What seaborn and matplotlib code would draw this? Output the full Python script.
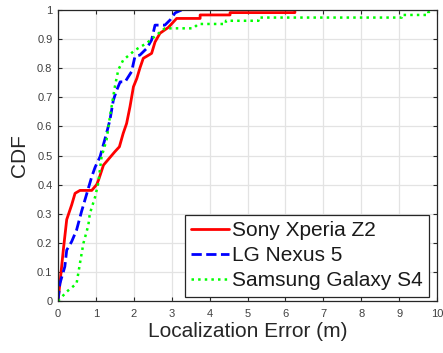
import numpy as np
import pandas as pd
import matplotlib
matplotlib.use("Agg")
import matplotlib.pyplot as plt
import seaborn as sns

# Data: CDF knots per device
sony_x = [0, 0.05, 0.14, 0.23, 0.36, 0.45, 0.58, 0.89, 1.02, 1.07, 1.2, 1.5, 1.62, 1.72, 1.81,
          1.9, 1.99, 2.08, 2.16, 2.25, 2.47, 2.56, 2.69, 2.91, 3.13, 3.75, 3.75, 4.54, 4.54,
          6.25, 6.25]
sony_p = [0, 0.06, 0.175, 0.28, 0.33, 0.37, 0.38, 0.38, 0.40, 0.416, 0.467, 0.513, 0.53, 0.576,
          0.61, 0.668, 0.736, 0.765, 0.80, 0.834, 0.851, 0.89, 0.92, 0.94, 0.971, 0.971, 0.983,
          0.983, 0.991, 0.991, 1.0]

lg_x = [0, 0.05, 0.18, 0.23, 0.36, 0.49, 0.62, 0.71, 0.80, 0.89, 0.98, 1.11, 1.28, 1.37, 1.46,
        1.55, 1.64, 1.77, 1.94, 2.03, 2.16, 2.34, 2.47, 2.56, 2.82, 2.96, 3.09, 3.26]
lg_p = [0, 0.06, 0.118, 0.175, 0.204, 0.244, 0.307, 0.347, 0.387, 0.427, 0.46, 0.496, 0.576,
        0.622, 0.69, 0.725, 0.753, 0.753, 0.788, 0.84, 0.845, 0.868, 0.897, 0.948, 0.948, 0.966,
        0.99, 1.0]

s4_x = [0, 0.23, 0.49, 0.58, 0.67, 0.80, 0.84, 0.98, 1.06, 1.15, 1.28, 1.37, 1.5, 1.59, 1.72,
        2.03, 2.34, 2.6, 2.82, 3.57, 3.7, 4.43, 4.43, 5.29, 5.29, 9.07, 9.07, 9.77, 9.77, 9.85]
s4_p = [0, 0.032, 0.06, 0.13, 0.198, 0.26, 0.30, 0.358, 0.404, 0.496, 0.553, 0.633, 0.736, 0.794,
        0.828, 0.862, 0.886, 0.914, 0.937, 0.937, 0.952, 0.952, 0.963, 0.963, 0.974, 0.974,
        0.983, 0.983, 0.992, 1.0]

labels = ["Sony Xperia Z2", "LG Nexus 5", "Samsung Galaxy S4"]
colors = ["#ff0000", "#0000ff", "#00ff00"]
styles = ["-", "--", ":"]
widths = [2.0, 2.0, 1.8]

x_ticks = list(range(0, 11))
y_ticks = [0, 0.1, 0.2, 0.3, 0.4, 0.5, 0.6, 0.7, 0.8, 0.9, 1]
y_tick_labels = ["0", "0.1", "0.2", "0.3", "0.4", "0.5", "0.6", "0.7", "0.8", "0.9", "1"]

sns.set_theme(style="whitegrid")
plt.rcParams["font.family"] = ["Liberation Sans", "DejaVu Sans"]

fig = plt.figure(figsize=(4.43, 3.53), dpi=100)
ax = fig.add_axes([58 / 443, 1 - 301 / 353, (437 - 58) / 443, (301 - 10) / 353])
ax.set_facecolor("white")

series = [(sony_x, sony_p), (lg_x, lg_p), (s4_x, s4_p)]
for (xs, ps), lab, c, ls, lw in zip(series, labels, colors, styles, widths):
    df = pd.DataFrame({"x": xs, "p": ps})
    sns.lineplot(data=df, x="x", y="p", sort=False, estimator=None, ax=ax,
                 color=c, linestyle=ls, linewidth=lw, label=lab)

ax.set_xlim(0, 10)
ax.set_ylim(0, 1)
ax.set_xticks(x_ticks)
ax.set_yticks(y_ticks)
ax.set_yticklabels(y_tick_labels)
ax.grid(True, color="#e3e3e3", linewidth=0.9)
ax.tick_params(axis="both", which="both", direction="in", length=3, width=0.8,
               colors="#262626", labelcolor="#404040", labelsize=8,
               top=True, right=True, bottom=True, left=True)
ax.tick_params(axis="x", pad=6)
ax.tick_params(axis="y", pad=4)
for s in ax.spines.values():
    s.set_visible(True)
    s.set_color("#262626")
    s.set_linewidth(0.9)

ax.set_xlabel("Localization Error (m)", fontsize=15, color="#262626", labelpad=2)
ax.set_ylabel("CDF", fontsize=15, color="#262626", labelpad=6)

leg = ax.legend(loc="lower right", bbox_to_anchor=((429 - 58) / 379, (301 - 296.7) / 291),
                borderaxespad=0, fontsize=15, frameon=True, fancybox=False,
                framealpha=1, edgecolor="#262626", handlelength=1.8, handletextpad=0.15,
                borderpad=0.3, labelspacing=0.3)
leg.get_frame().set_linewidth(0.9)
for t in leg.get_texts():
    t.set_color("#1a1a1a")

fig.savefig("out.png", dpi=100, facecolor="white")
